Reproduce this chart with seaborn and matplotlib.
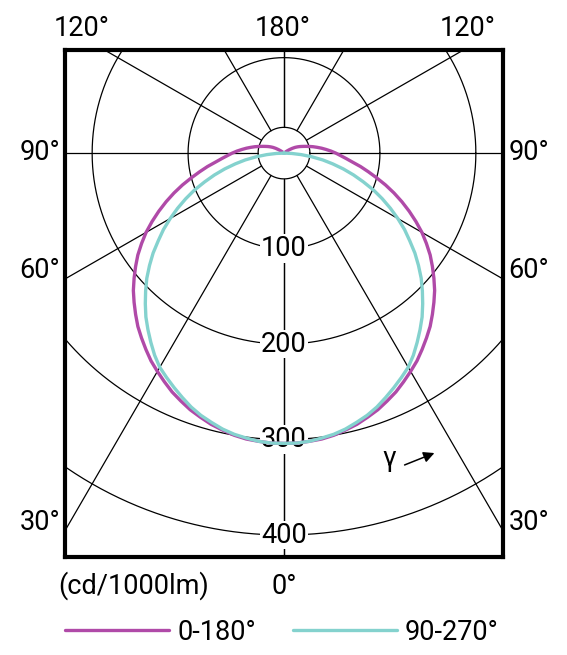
import numpy as np
import pandas as pd
import seaborn as sns
import matplotlib
matplotlib.use("Agg")
import matplotlib.pyplot as plt

# ---------------- data ----------------
gamma_c0 = [0, 2.5, 5, 7.5, 10, 12.5, 15, 17.5, 20, 22.5, 25, 27.5, 30, 32.5, 35, 37.5,
            40, 42.5, 45, 47.5, 50, 52.5, 55, 57.5, 60, 62.5, 65, 67.5, 70, 72.5, 75, 77.5,
            80, 82.5, 85, 87.5, 90, 92.5, 95, 97.5, 100, 102.5, 105, 107.5, 110, 112.5,
            115, 117.5, 120, 122.5, 125, 127.5, 130, 140, 150, 160, 170, 180]
cd_c0 = [304, 304, 303, 302, 300, 297, 294, 290, 286, 281, 276, 270, 264, 258, 251, 244,
         237, 229, 221, 213, 204, 195, 186, 176, 166, 155, 144, 133, 122, 111, 100, 90,
         81, 72, 65, 59, 54, 49, 44, 39.5, 35, 31, 27, 23.5, 20.5, 18,
         15.5, 13, 10, 7, 4, 1.5, 0, 0, 0, 0, 0, 0]

gamma_c90 = [0, 2.5, 5, 7.5, 10, 12.5, 15, 17.5, 20, 22.5, 25, 27.5, 30, 32.5, 35, 37.5,
             40, 42.5, 45, 47.5, 50, 52.5, 55, 57.5, 60, 62.5, 65, 67.5, 70, 72.5, 75, 77.5,
             80, 82.5, 85, 87.5, 90]
cd_c90 = [304, 304, 303, 301, 299, 296, 292, 288, 283, 277, 271, 265, 259, 251, 242, 233,
          224, 214, 204, 194, 183, 172, 160, 149, 137, 125, 113, 101, 88, 76, 64, 52,
          41, 29, 18, 8, 0]

series_labels = ["0-180°", "90-270°"]
series_colors = ["#B04AA8", "#84D2CE"]
ring_values = [100, 200, 300, 400]
angle_labels = ["120°", "180°", "120°", "90°", "90°", "60°", "60°", "30°", "30°", "0°"]
unit_label = "(cd/1000lm)"

# ---------------- build polar -> cartesian table ----------------
def half_plane(gam, cd, label):
    g = np.radians(np.array(gam, dtype=float))
    r = np.array(cd, dtype=float)
    gl, rl = g[::-1], r[::-1]
    xs = np.concatenate([-rl * np.sin(gl), r * np.sin(g)])
    ys = np.concatenate([-rl * np.cos(gl), -r * np.cos(g)])
    return pd.DataFrame({"x": xs, "y": ys, "plane": label})

df = pd.concat([half_plane(gamma_c0, cd_c0, series_labels[0]),
                half_plane(gamma_c90, cd_c90, series_labels[1])], ignore_index=True)

# ---------------- figure ----------------
sns.set_theme(style="white")
plt.rcParams["font.family"] = ["Roboto", "DejaVu Sans"]
plt.rcParams["text.color"] = "black"
FS = 19.5

W, H = 567, 655
fig = plt.figure(figsize=(W / 100, H / 100), dpi=100)
ax = fig.add_axes([65 / W, (H - 557) / H, 438 / W, 507 / H])

def fpx(x, y):
    return (x / W, 1 - y / H)

# grid rings
t = np.linspace(0, 2 * np.pi, 721)
for r in [27] + ring_values:
    ax.plot(r * np.cos(t), r * np.sin(t), color="black", lw=0.9, zorder=1)

# spokes every 30 degrees
r0 = 27
for a in range(0, 181, 30):
    ar = np.radians(a)
    for s in (-1, 1):
        ax.plot([s * r0 * np.sin(ar), s * 800 * np.sin(ar)],
                [-r0 * np.cos(ar), -800 * np.cos(ar)],
                color="black", lw=0.9, zorder=1)

# ring value labels
for v in ring_values:
    ax.text(0, -v, str(v), ha="center", va="center", fontsize=FS, zorder=2,
            bbox=dict(fc="white", ec="none", pad=0.6))

# curves
sns.lineplot(data=df, x="x", y="y", hue="plane", hue_order=series_labels,
             palette=dict(zip(series_labels, series_colors)),
             sort=False, estimator=None, lw=2.4, ax=ax, zorder=3)

ax.set_xlim(-228.3, 228.3)
ax.set_ylim(-423, 108)
ax.set_xticks([])
ax.set_yticks([])
ax.set_xlabel("")
ax.set_ylabel("")
for sp in ax.spines.values():
    sp.set_visible(True)
    sp.set_color("black")
    sp.set_linewidth(3.0)

# angle labels around the frame
pos = [(82, 29), (283, 29), (468, 29), (40, 152), (529, 152),
       (40, 270), (529, 270), (40, 523), (529, 523), (284, 586)]
for txt, (px_, py_) in zip(angle_labels, pos):
    fig.text(*fpx(px_, py_), txt, ha="center", va="center", fontsize=FS)
fig.text(*fpx(134, 586), unit_label, ha="center", va="center", fontsize=FS)

# gamma direction marker
fig.text(*fpx(389, 458), "γ", ha="center", va="center", fontsize=FS)
ax.annotate("", xy=fpx(437, 452), xytext=fpx(402, 466),
            xycoords="figure fraction", textcoords="figure fraction",
            arrowprops=dict(arrowstyle="-|>", color="black", lw=1.1,
                            mutation_scale=16))

# legend
handles, labels = ax.get_legend_handles_labels()
ax.legend(handles, labels, loc="center left",
          bbox_to_anchor=fpx(65, 632), bbox_transform=fig.transFigure,
          ncol=2, frameon=False, fontsize=FS, handlelength=3.85,
          handletextpad=0.3, columnspacing=1.35, borderpad=0, borderaxespad=0)

fig.savefig("out.png", dpi=100)
